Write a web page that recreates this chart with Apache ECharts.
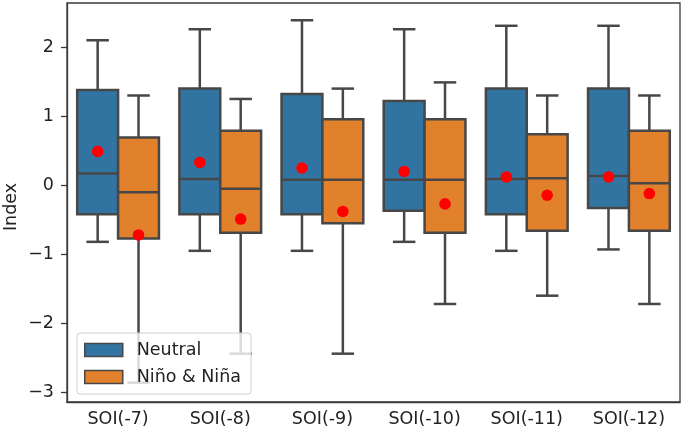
<!DOCTYPE html>
<html>
<head>
<meta charset="utf-8">
<script src="https://cdn.jsdelivr.net/npm/echarts@6/dist/echarts.min.js"></script>
<style>html,body{margin:0;padding:0;background:#fff}#c{width:682px;height:434px}</style>
</head>
<body>
<div id="c"></div>
<script>
const categories = ['SOI(-7)', 'SOI(-8)', 'SOI(-9)', 'SOI(-10)', 'SOI(-11)', 'SOI(-12)'];
const yTicks = [-3, -2, -1, 0, 1, 2];
const yAxisTitle = 'Index';

const neutralLow    = [-0.82, -0.95, -0.95, -0.82, -0.95, -0.93];
const neutralQ1     = [-0.42, -0.42, -0.42, -0.37, -0.42, -0.33];
const neutralMedian = [0.17, 0.09, 0.08, 0.08, 0.09, 0.135];
const neutralQ3     = [1.38, 1.40, 1.32, 1.22, 1.40, 1.40];
const neutralHigh   = [2.10, 2.26, 2.39, 2.26, 2.31, 2.31];
const neutralMean   = [0.49, 0.33, 0.25, 0.20, 0.12, 0.12];

const ninoLow    = [-2.86, -2.44, -2.44, -1.72, -1.60, -1.72];
const ninoQ1     = [-0.77, -0.69, -0.55, -0.69, -0.66, -0.66];
const ninoMedian = [-0.10, -0.05, 0.08, 0.08, 0.10, 0.03];
const ninoQ3     = [0.69, 0.79, 0.955, 0.955, 0.74, 0.79];
const ninoHigh   = [1.30, 1.25, 1.40, 1.49, 1.30, 1.30];
const ninoMean   = [-0.72, -0.49, -0.38, -0.27, -0.145, -0.12];

const FONT = 'DejaVu Sans';
const EDGE = '#474747';
const LW = 2.5;
const BLUE = '#3274a1';
const ORANGE = '#e1812c';

function boxData(low, q1, med, q3, high, mean) {
  return categories.map((c, i) => [i, low[i], q1[i], med[i], q3[i], high[i], mean[i]]);
}

function makeRender(side, color) {
  return function (params, api) {
    const cat = api.value(0);
    const band = api.size([1, 0])[0];
    const cx = api.coord([cat, 0])[0];
    const w = band * 0.4;
    const x0 = side < 0 ? cx - w : cx;
    const xc = x0 + w / 2;
    const Y = v => api.coord([cat, v])[1];
    const yLo = Y(api.value(1)), yQ1 = Y(api.value(2)), yMed = Y(api.value(3));
    const yQ3 = Y(api.value(4)), yHi = Y(api.value(5)), yMean = Y(api.value(6));
    const cap = w * 0.55;
    const ls = { stroke: EDGE, lineWidth: LW };
    return {
      type: 'group',
      children: [
        { type: 'line', shape: { x1: xc, y1: yQ3, x2: xc, y2: yHi }, style: ls },
        { type: 'line', shape: { x1: xc - cap / 2, y1: yHi, x2: xc + cap / 2, y2: yHi }, style: ls },
        { type: 'line', shape: { x1: xc, y1: yQ1, x2: xc, y2: yLo }, style: ls },
        { type: 'line', shape: { x1: xc - cap / 2, y1: yLo, x2: xc + cap / 2, y2: yLo }, style: ls },
        { type: 'rect', shape: { x: x0, y: yQ3, width: w, height: yQ1 - yQ3 }, style: { fill: color, stroke: EDGE, lineWidth: LW } },
        { type: 'line', shape: { x1: x0, y1: yMed, x2: x0 + w, y2: yMed }, style: ls },
        { type: 'circle', z2: 10, shape: { cx: xc, cy: yMean, r: 5.8 }, style: { fill: '#ff0000' } }
      ]
    };
  };
}

const chart = echarts.init(document.getElementById('c'), null, { renderer: 'canvas' });
chart.setOption({
  animation: false,
  backgroundColor: '#ffffff',
  textStyle: { fontFamily: FONT },
  grid: { left: 67, right: 2, top: 3, bottom: 32, containLabel: false, outerBoundsMode: 'none',
    show: true, borderColor: '#3a3a3a', borderWidth: 1.3, backgroundColor: 'transparent' },
  graphic: [{
    type: 'text', x: 11, y: 207, rotation: Math.PI / 2,
    style: { text: yAxisTitle, fontFamily: FONT, fontSize: 17.5, fill: '#222', align: 'center', verticalAlign: 'middle' }
  }],
  legend: {
    orient: 'vertical',
    left: 77, top: 333,
    padding: [8, 10, 8, 7],
    itemWidth: 38, itemHeight: 13, itemGap: 9,
    icon: 'rect',
    backgroundColor: 'rgba(255,255,255,0.8)',
    borderColor: '#d0d0d0', borderWidth: 1, borderRadius: 3,
    textStyle: { fontFamily: FONT, fontSize: 17.5, color: '#222', padding: [0, 0, 0, 9] },
    data: [
      { name: 'Neutral', itemStyle: { color: BLUE, borderColor: EDGE, borderWidth: 1.5 } },
      { name: 'Niño & Niña', itemStyle: { color: ORANGE, borderColor: EDGE, borderWidth: 1.5 } }
    ]
  },
  xAxis: {
    type: 'category',
    data: categories,
    boundaryGap: true,
    axisLine: { onZero: false, lineStyle: { color: '#3a3a3a', width: 1.3 } },
    axisTick: { alignWithLabel: true, length: 5, lineStyle: { color: '#3a3a3a', width: 1.3 } },
    axisLabel: { fontFamily: FONT, fontSize: 17.5, color: '#222', margin: 8 },
    splitLine: { show: false }
  },
  yAxis: {
    type: 'value',
    min: -3.14, max: 2.64,
    axisLine: { show: true, onZero: false, lineStyle: { color: '#3a3a3a', width: 1.3 } },
    axisTick: { show: true, length: 6, customValues: yTicks, lineStyle: { color: '#3a3a3a', width: 1.3 } },
    axisLabel: { fontFamily: FONT, fontSize: 17.5, color: '#222', margin: 13, customValues: yTicks,
      formatter: v => String(v).replace('-', '\u2212') },
    splitLine: { show: false }
  },
  series: [
    { name: 'Neutral', type: 'custom', itemStyle: { color: BLUE },
      renderItem: makeRender(-1, BLUE),
      encode: { x: 0, y: [1, 2, 3, 4, 5, 6] },
      data: boxData(neutralLow, neutralQ1, neutralMedian, neutralQ3, neutralHigh, neutralMean) },
    { name: 'Niño & Niña', type: 'custom', itemStyle: { color: ORANGE },
      renderItem: makeRender(1, ORANGE),
      encode: { x: 0, y: [1, 2, 3, 4, 5, 6] },
      data: boxData(ninoLow, ninoQ1, ninoMedian, ninoQ3, ninoHigh, ninoMean) }
  ]
});
</script>
</body>
</html>
